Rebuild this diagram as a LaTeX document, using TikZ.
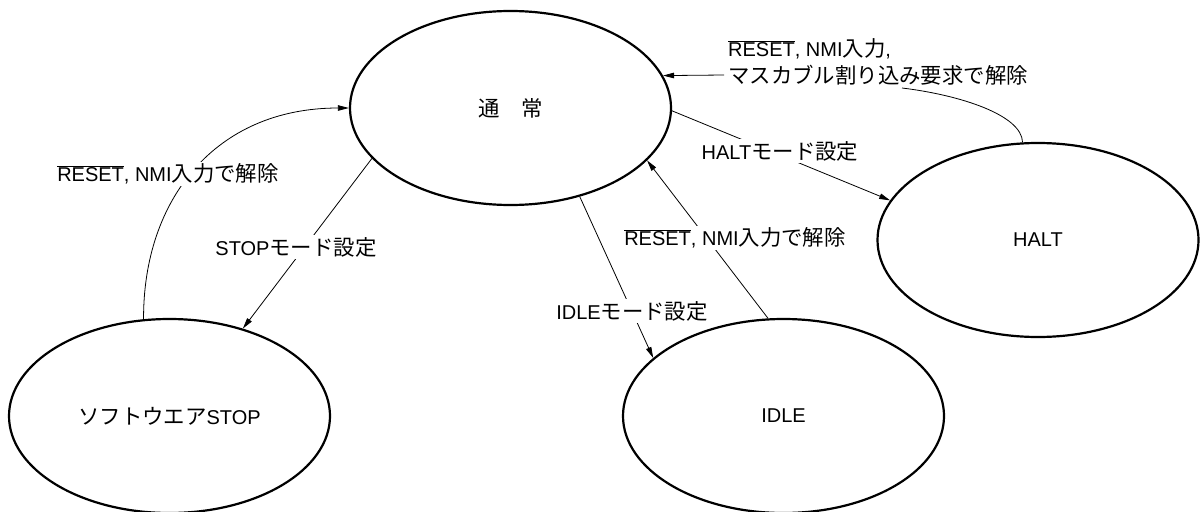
\documentclass[tikz,border=0pt]{standalone}
\usepackage{fontspec}
\setmainfont{Liberation Sans}
\newfontfamily\jpf[Scale=1.07]{Noto Sans CJK JP}
\newcommand\J[1]{{\jpf #1}}
\newcommand\RST{$\overline{\hbox{RESET}}$}
\usetikzlibrary{shapes.geometric,arrows.meta}
\begin{document}
\begin{tikzpicture}[x=1pt,y=-1pt,
  every node/.style={font=\fontsize{20}{27}\selectfont},
  state/.style={ellipse,draw,line width=2.2pt,minimum width=321pt,minimum height=194pt,inner sep=0pt},
  conn/.style={line width=0.8pt},
  arr/.style={conn,-{Triangle[length=11pt,width=5.5pt]}},
  lab/.style={fill=white,inner sep=2pt}]
\useasboundingbox (0,0) rectangle (1201,511);
% states
\node[state] (normal) at (510.5,108) {\J{通　常}};
\node[state] (halt)   at (1038,240) {HALT};
\node[state] (stop)   at (169.5,416) {\J{ソフトウエア}STOP};
\node[state] (idle)   at (783.5,416) {IDLE};
% helper coordinates for the HALT release path
\coordinate (hc) at (902,88);
\coordinate (ha) at (724,75);
% connectors
\draw[arr] (normal.-1.5) -- (halt.165.9);
\draw[conn] (halt.99) .. controls (1022,115) and (960,95) .. (hc);
\draw[arr] (ha) -- (normal.12.2);
\draw[arr] (normal.200.2) -- (stop.50.8);
\draw[arr] (stop.105.3) .. controls (143,200) and (215,108) .. (normal.180);
\draw[arr] (normal.-52.5) -- (idle.156.6);
\draw[arr] (idle.99) -- (normal.-21.9);
% labels
\node[lab] (lhaltset) at (780,151) {HALT\J{モード設定}};
\node[lab,align=left,anchor=west] (lhaltrel) at (726,62) {\RST, NMI\J{入力}, \\ \J{マスカブル割り込み要求で解除}};
\node[lab] (lstopset) at (296,247) {STOP\J{モード設定}};
\node[lab] (lstoprel) at (168,174) {\RST, NMI\J{入力で解除}};
\node[lab] (lidleset) at (632,311) {IDLE\J{モード設定}};
\node[lab] (lidlerel) at (735,238) {\RST, NMI\J{入力で解除}};
\end{tikzpicture}
\end{document}
